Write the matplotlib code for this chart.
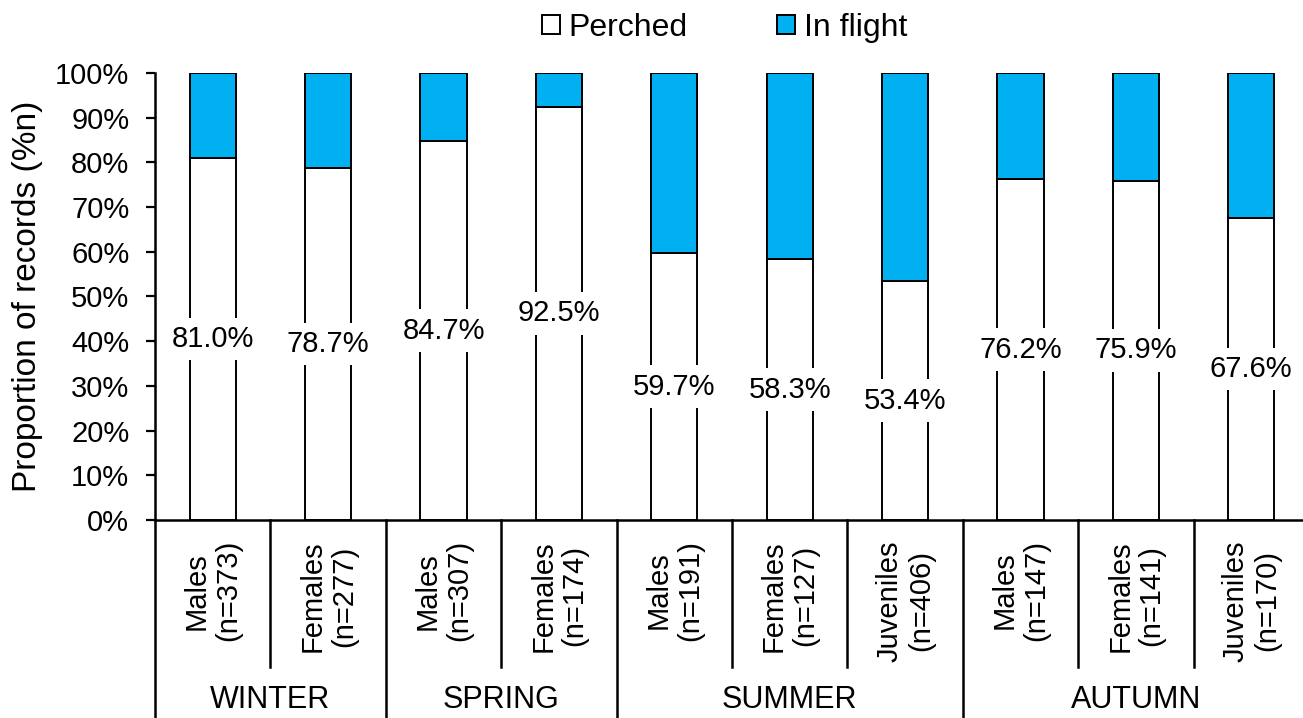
import matplotlib
matplotlib.use("Agg")
import matplotlib.pyplot as plt
import matplotlib.transforms as mtransforms
from matplotlib.patches import Patch
import numpy as np

plt.rcParams['font.family'] = ['Liberation Sans', 'DejaVu Sans']

# data
groups = ["Males", "Females", "Males", "Females", "Males", "Females", "Juveniles",
          "Males", "Females", "Juveniles"]
n_values = [373, 277, 307, 174, 191, 127, 406, 147, 141, 170]
perched = [81.0, 78.7, 84.7, 92.5, 59.7, 58.3, 53.4, 76.2, 75.9, 67.6]
in_flight = [100 - p for p in perched]
seasons = ["WINTER", "SPRING", "SUMMER", "AUTUMN"]
season_sizes = [2, 2, 3, 3]

blue = '#00B0F0'
fs = 21

fig = plt.figure(figsize=(13.03, 7.18), dpi=100)
ax = fig.add_axes([155 / 1303, 1 - 520 / 718, (1309 - 155) / 1303, 447 / 718])

x = np.arange(len(perched))
w = 0.40
ax.bar(x, perched, w, color='white', edgecolor='black', linewidth=1.4, zorder=2)
ax.bar(x, in_flight, w, bottom=perched, color=blue, edgecolor='black', linewidth=1.4, zorder=2)

for xi, p in zip(x, perched):
    ax.text(xi, p / 2, f"{p:.1f}%", ha='center', va='center', fontsize=fs, zorder=3,
            bbox=dict(boxstyle='square,pad=0.25', facecolor='white', edgecolor='none'))

ax.set_xlim(-0.5, len(perched) - 0.5)
ax.set_ylim(0, 100)
ax.set_yticks(np.arange(0, 101, 10))
ax.set_yticklabels([f"{v}%" for v in range(0, 101, 10)], fontsize=fs)
ax.tick_params(axis='y', direction='out', length=6.5, width=1.6, pad=12)
ax.set_xticks([])
ax.set_ylabel("Proportion of records (%n)", fontsize=24)
ax.yaxis.set_label_coords(-0.097, 0.5)

for s in ['top', 'right']:
    ax.spines[s].set_visible(False)
ax.spines['left'].set_linewidth(1.8)
ax.spines['bottom'].set_linewidth(1.8)

trans = mtransforms.blended_transform_factory(ax.transData, ax.transAxes)

# category labels
for xi, g, n in zip(x, groups, n_values):
    ax.text(xi, -0.045, f"{g}\n(n={n})", rotation=90, ha='center', va='top',
            multialignment='center', fontsize=fs, transform=trans, linespacing=1.15)

# separators
bounds = np.cumsum([0] + season_sizes)
for b in range(len(perched) + 1):
    xb = b - 0.5
    if b in bounds:
        ax.plot([xb, xb], [0, -0.45], color='black', lw=1.8, transform=trans, clip_on=False)
    else:
        ax.plot([xb, xb], [0, -0.329], color='black', lw=1.8, transform=trans, clip_on=False)

for s, a, b in zip(seasons, bounds[:-1], bounds[1:]):
    ax.text((a + b - 1) / 2, -0.403, s, ha='center', va='center', fontsize=22, transform=trans)

handles = [Patch(facecolor='white', edgecolor='black', linewidth=1.4, label='Perched'),
           Patch(facecolor=blue, edgecolor='black', linewidth=1.4, label='In flight')]
fig.legend(handles=handles, loc='center', bbox_to_anchor=(0.556, 0.961), ncol=2,
           frameon=False, fontsize=23, handlelength=0.56, handleheight=0.56,
           handletextpad=0.28, columnspacing=2.8)

fig.savefig("out.png", dpi=100)
